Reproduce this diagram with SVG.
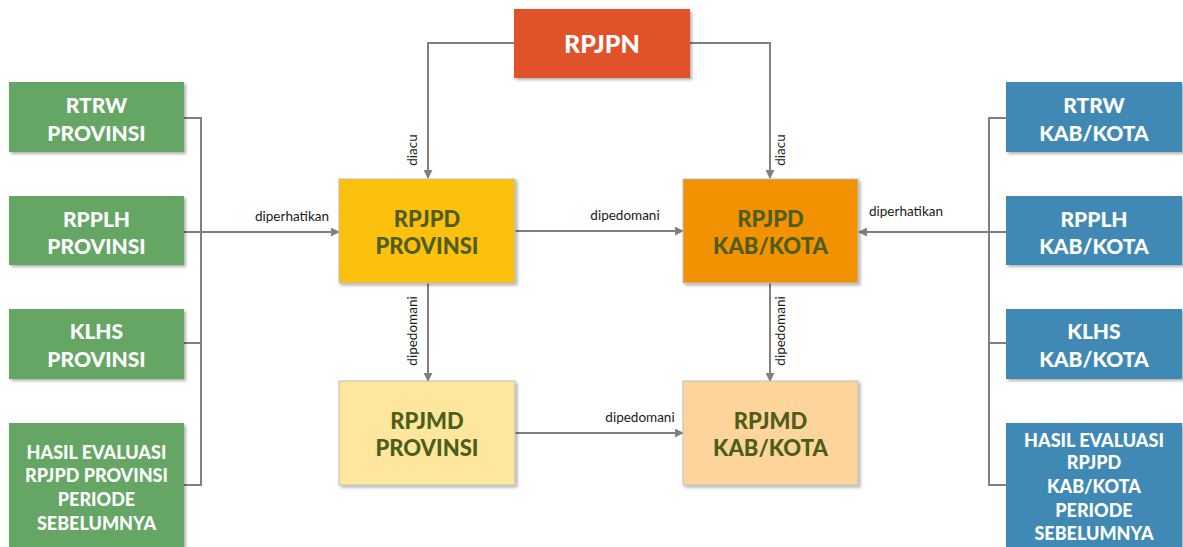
<svg xmlns="http://www.w3.org/2000/svg" width="1183" height="547" viewBox="0 0 1183 547">
<defs>
<filter id="sh" x="-10%" y="-10%" width="120%" height="130%">
<feDropShadow dx="2" dy="2" stdDeviation="1.5" flood-color="#000" flood-opacity="0.3"/>
</filter>
<marker id="ar" viewBox="0 0 10 10" refX="9" refY="5" markerWidth="9" markerHeight="9" markerUnits="userSpaceOnUse" orient="auto">
<path d="M0,0 L10,5 L0,10 z" fill="#808080"/>
</marker>
</defs>
<style>
.box{filter:url(#sh);}
.g{fill:#65A665;}
.b{fill:#4189B4;}
.w{font-family:Lato,"Open Sans","Liberation Sans",sans-serif;font-weight:900;fill:#fff;text-anchor:middle;}
.d{font-family:Lato,"Open Sans","Liberation Sans",sans-serif;font-weight:900;fill:#4E5D1B;text-anchor:middle;font-size:22px;}
.f20{font-size:21px;}
.f18{font-size:18px;}
.ln{fill:none;stroke:#808080;stroke-width:2;}
.lb{font-family:Lato,"Open Sans","Liberation Sans",sans-serif;font-size:13.5px;fill:#1a1a1a;text-anchor:middle;}
.cb{stroke:#BDBDBD;stroke-width:1;}
</style>

<g id="connectors">
<polyline class="ln" points="184,118 201,118 201,485 184,485"/>
<line class="ln" x1="184" y1="343" x2="201" y2="343"/>
<line class="ln" x1="184" y1="232" x2="339" y2="232" marker-end="url(#ar)"/>
<polyline class="ln" points="1006,118 989,118 989,485 1006,485"/>
<line class="ln" x1="1006" y1="343" x2="989" y2="343"/>
<line class="ln" x1="1006" y1="232" x2="859" y2="232" marker-end="url(#ar)"/>
<polyline class="ln" points="514,43 428,43 428,178" marker-end="url(#ar)"/>
<polyline class="ln" points="690,43 770,43 770,178" marker-end="url(#ar)"/>
<line class="ln" x1="515" y1="231" x2="683" y2="231" marker-end="url(#ar)"/>
<line class="ln" x1="428" y1="283" x2="428" y2="381" marker-end="url(#ar)"/>
<line class="ln" x1="770" y1="283" x2="770" y2="381" marker-end="url(#ar)"/>
<line class="ln" x1="515" y1="433" x2="683" y2="433" marker-end="url(#ar)"/>
<text class="lb" x="292" y="221">diperhatikan</text>
<text class="lb" x="906" y="216">diperhatikan</text>
<text class="lb" x="625" y="220">dipedomani</text>
<text class="lb" x="640" y="422">dipedomani</text>
<text class="lb" transform="translate(417,150) rotate(-90)">diacu</text>
<text class="lb" transform="translate(785,150) rotate(-90)">diacu</text>
<text class="lb" transform="translate(417,331) rotate(-90)">dipedomani</text>
<text class="lb" transform="translate(785,331) rotate(-90)">dipedomani</text>
</g>

<g id="rtrw-prov"><rect class="box g" x="9" y="82" width="175" height="70"/><text class="w f20" x="96.5" y="113">RTRW</text><text class="w f20" x="96.5" y="141">PROVINSI</text></g>
<g id="rpplh-prov"><rect class="box g" x="9" y="196" width="175" height="69"/><text class="w f20" x="96.5" y="227">RPPLH</text><text class="w f20" x="96.5" y="254">PROVINSI</text></g>
<g id="klhs-prov"><rect class="box g" x="9" y="309" width="175" height="70"/><text class="w f20" x="96.5" y="339">KLHS</text><text class="w f20" x="96.5" y="367">PROVINSI</text></g>
<g id="hasil-prov"><rect class="box g" x="9" y="423" width="175" height="130"/><text class="w f18" x="96.5" y="459">HASIL EVALUASI</text><text class="w f18" x="96.5" y="482">RPJPD PROVINSI</text><text class="w f18" x="96.5" y="506">PERIODE</text><text class="w f18" x="96.5" y="530">SEBELUMNYA</text></g>

<g id="rtrw-kab"><rect class="box b" x="1006" y="82" width="176" height="70"/><text class="w f20" x="1094" y="113">RTRW</text><text class="w f20" x="1094" y="141">KAB/KOTA</text></g>
<g id="rpplh-kab"><rect class="box b" x="1006" y="196" width="176" height="69"/><text class="w f20" x="1094" y="227">RPPLH</text><text class="w f20" x="1094" y="254">KAB/KOTA</text></g>
<g id="klhs-kab"><rect class="box b" x="1006" y="309" width="176" height="70"/><text class="w f20" x="1094" y="339">KLHS</text><text class="w f20" x="1094" y="367">KAB/KOTA</text></g>
<g id="hasil-kab"><rect class="box b" x="1006" y="423" width="176" height="130"/><text class="w f18" x="1094" y="447">HASIL EVALUASI</text><text class="w f18" x="1094" y="469">RPJPD</text><text class="w f18" x="1094" y="493">KAB/KOTA</text><text class="w f18" x="1094" y="517">PERIODE</text><text class="w f18" x="1094" y="540">SEBELUMNYA</text></g>

<g id="rpjpn"><rect class="box" x="514" y="9" width="176" height="69" fill="#E0532A"/><text class="w" style="font-size:25px" x="602" y="53">RPJPN</text></g>
<g id="rpjpd-prov"><rect class="box cb" x="339" y="179" width="176" height="104" fill="#FCC10B"/><text class="d" x="427" y="227">RPJPD</text><text class="d" x="427" y="254">PROVINSI</text></g>
<g id="rpjpd-kab"><rect class="box cb" x="683" y="179" width="175" height="104" fill="#F39200"/><text class="d" x="770.5" y="227">RPJPD</text><text class="d" x="770.5" y="254">KAB/KOTA</text></g>
<g id="rpjmd-prov"><rect class="box cb" x="339" y="381" width="176" height="104" fill="#FEE79C"/><text class="d" x="427" y="429">RPJMD</text><text class="d" x="427" y="456">PROVINSI</text></g>
<g id="rpjmd-kab"><rect class="box cb" x="683" y="381" width="175" height="104" fill="#FDD49A"/><text class="d" x="770.5" y="429">RPJMD</text><text class="d" x="770.5" y="456">KAB/KOTA</text></g>
</svg>
